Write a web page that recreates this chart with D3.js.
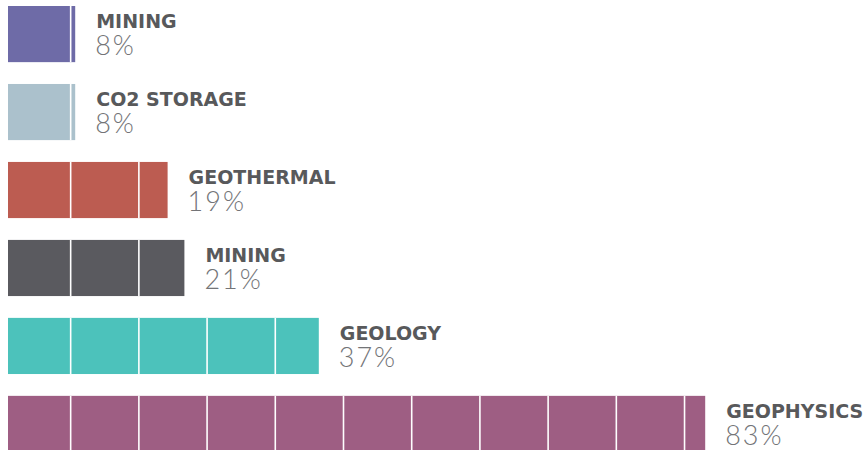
<!DOCTYPE html>
<html>
  <head>
    <meta charset="utf-8">
    <title>Fields</title>
    <script src="https://cdn.jsdelivr.net/npm/d3@7"></script>
    <style>
      html, body { margin: 0; padding: 0; background: #ffffff; }
      #chart { width: 864px; height: 450px; }
      .name { font-family: "DejaVu Sans", sans-serif; font-weight: bold; font-size: 19px; fill: #58595b; }
      .pct { font-family: "Lato", sans-serif; font-weight: 300; font-size: 27px; letter-spacing: 2px; fill: #737477; }
    </style>
  </head>
  <body>
    <div id="chart"></div>
    <script>
      // rows top to bottom
      var categories = ["MINING", "CO2 STORAGE", "GEOTHERMAL", "MINING", "GEOLOGY", "GEOPHYSICS"];
      var values = [8, 8, 19, 21, 37, 83];
      var colors = ["#6e6ba7", "#abc1cc", "#bc5c51", "#5a5a5f", "#4cc2bb", "#9e5e83"];

      var w = 864, h = 450;
      var svg = d3.select("#chart").append("svg")
        .attr("width", w)
        .attr("height", h);

      var x = d3.scaleLinear().domain([0, 100]).range([8, 848]);
      var y = d3.scaleBand().domain(d3.range(categories.length))
        .range([6, 452]).paddingInner(0.28).paddingOuter(0);

      // white dividers across the bars
      var segStart = 7.46, segStep = 8.12;

      var rows = svg.selectAll("g.row")
        .data(values)
        .enter()
        .append("g")
        .attr("class", "row")
        .attr("transform", function(d, i) { return "translate(0," + y(i) + ")"; });

      rows.append("rect")
        .attr("x", x(0))
        .attr("y", 0)
        .attr("width", function(d) { return x(d) - x(0); })
        .attr("height", y.bandwidth())
        .attr("fill", function(d, i) { return colors[i]; });

      rows.each(function(d) {
        var cuts = [];
        for (var c = segStart; c < d; c += segStep) cuts.push(c);
        d3.select(this).selectAll("line")
          .data(cuts)
          .enter()
          .append("line")
          .attr("x1", function(c) { return x(c); })
          .attr("x2", function(c) { return x(c); })
          .attr("y1", 0)
          .attr("y2", y.bandwidth())
          .attr("stroke", "#ffffff")
          .attr("stroke-width", 1.6);
      });

      // name and share in one text block
      var label = rows.append("text")
        .attr("x", function(d) { return x(d) + 21; })
        .attr("y", 22);

      label.append("tspan")
        .attr("class", "name")
        .text(function(d, i) { return categories[i]; });

      label.append("tspan")
        .attr("class", "pct")
        .attr("x", function(d) { return x(d) + 20; })
        .attr("dy", 27)
        .text(function(d) { return d + "%"; });
    </script>
  </body>
</html>
